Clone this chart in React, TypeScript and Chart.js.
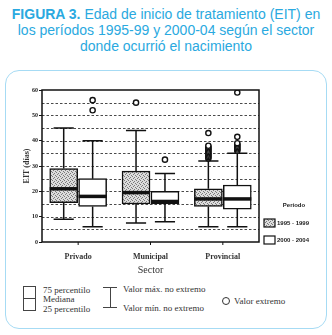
import React, { useEffect, useRef } from "react";
import { Chart, registerables } from "chart.js";

Chart.register(...registerables);

const categories = ["Privado", "Municipal", "Provincial"];
const periods = ["1995 - 1999", "2000 - 2004"];
const yTicks = [0, 10, 20, 30, 40, 50, 60];
const gridValues = [5, 10, 15, 20, 25, 30, 35, 40, 45, 50, 55];

// 1995-1999
const min9599 = [9, 7.5, 6];
const q1_9599 = [15.5, 15, 14];
const med9599 = [21, 19.5, 17];
const q3_9599 = [29, 28, 21];
const max9599 = [45, 44, 32];
const out9599 = [[], [55], [33, 33.5, 34, 34.5, 35, 35.5, 36, 36.5, 37, 37.5, 38, 43]];

// 2000-2004
const min0004 = [6, 8, 6];
const q1_0004 = [14, 15, 13];
const med0004 = [18, 16, 17];
const q3_0004 = [25, 20, 22.5];
const max0004 = [40, 27, 35];
const out0004 = [[52, 56], [32.5], [36, 36.5, 37, 37.5, 38, 38.5, 39, 41.5, 59]];

const SERIF = "'Liberation Serif', 'DejaVu Serif', serif";
const SANS = "'Liberation Sans', Arial, sans-serif";

const GROUP_OFFSET = 0.2;

function makePattern(): CanvasPattern | string {
  const c = document.createElement("canvas");
  c.width = 4;
  c.height = 4;
  const g = c.getContext("2d");
  if (!g) return "#ccc";
  g.fillStyle = "#dcdcdc";
  g.fillRect(0, 0, 4, 4);
  g.fillStyle = "#7a7a7a";
  g.fillRect(0, 0, 1, 1);
  g.fillRect(2, 1, 1, 1);
  g.fillRect(1, 2, 1, 1);
  g.fillRect(3, 3, 1, 1);
  const p = g.createPattern(c, "repeat");
  return p || "#ccc";
}

const stats = [
  { min: min9599, q1: q1_9599, med: med9599, q3: q3_9599, max: max9599 },
  { min: min0004, q1: q1_0004, med: med0004, q3: q3_0004, max: max0004 },
];

export default function App() {
  const ref = useRef<HTMLCanvasElement | null>(null);

  useEffect(() => {
    const canvas = ref.current;
    if (!canvas) return;
    const pattern = makePattern();

    const boxPlugin = {
      id: "boxplot",
      beforeDatasetsDraw(chart: any) {
        const { ctx, chartArea: a, scales } = chart;
        const y = scales.y;
        ctx.save();
        ctx.strokeStyle = "#4a4a4a";
        ctx.lineWidth = 1.2;
        ctx.setLineDash([2.5, 2]);
        gridValues.forEach((v) => {
          const py = Math.round(y.getPixelForValue(v)) + 0.5;
          ctx.beginPath();
          ctx.moveTo(a.left, py);
          ctx.lineTo(a.right, py);
          ctx.stroke();
        });
        ctx.setLineDash([]);
        ctx.strokeStyle = "#111";
        ctx.lineWidth = 1.5;
        [0, 1].forEach((di) => {
          const meta = chart.getDatasetMeta(di);
          const s = stats[di];
          meta.data.forEach((bar: any, i: number) => {
            const bx = bar.x;
            const cap = bar.width * 0.36;
            const yMax = y.getPixelForValue(s.max[i]);
            const yQ3 = y.getPixelForValue(s.q3[i]);
            const yMin = y.getPixelForValue(s.min[i]);
            const yQ1 = y.getPixelForValue(s.q1[i]);
            ctx.beginPath();
            ctx.moveTo(bx, yQ3);
            ctx.lineTo(bx, yMax);
            ctx.moveTo(bx - cap, yMax);
            ctx.lineTo(bx + cap, yMax);
            ctx.moveTo(bx, yQ1);
            ctx.lineTo(bx, yMin);
            ctx.moveTo(bx - cap, yMin);
            ctx.lineTo(bx + cap, yMin);
            ctx.stroke();
          });
        });
        ctx.restore();
      },
      afterDatasetsDraw(chart: any) {
        const { ctx, chartArea: a, scales } = chart;
        const y = scales.y;
        const x = scales.x;
        ctx.save();
        ctx.strokeStyle = "#111";
        ctx.lineWidth = 3.5;
        [0, 1].forEach((di) => {
          const meta = chart.getDatasetMeta(di);
          const s = stats[di];
          meta.data.forEach((bar: any, i: number) => {
            const py = y.getPixelForValue(s.med[i]);
            ctx.beginPath();
            ctx.moveTo(bar.x - bar.width / 2, py);
            ctx.lineTo(bar.x + bar.width / 2, py);
            ctx.stroke();
          });
        });
        ctx.lineWidth = 1.5;
        ctx.strokeRect(a.left, a.top, a.right - a.left, a.bottom - a.top);
        ctx.lineWidth = 1;
        categories.forEach((_, i) => {
          const px = x.getPixelForValue(i);
          ctx.beginPath();
          ctx.moveTo(px, a.bottom);
          ctx.lineTo(px, a.bottom + 3);
          ctx.stroke();
        });
        ctx.restore();
      },
      afterDraw(chart: any) {
        const { ctx, chartArea: a } = chart;
        ctx.save();
        const lx = a.right + 5;
        ctx.fillStyle = "#222";
        ctx.font = `bold 6px ${SANS}`;
        ctx.textAlign = "center";
        ctx.textBaseline = "middle";
        ctx.fillText("Período", lx + 30, 125);
        periods.forEach((p, i) => {
          const top = 139 + i * 17;
          ctx.fillStyle = i === 0 ? (pattern as any) : "#fff";
          ctx.fillRect(lx, top, 11, 8);
          ctx.strokeStyle = "#111";
          ctx.lineWidth = 1.2;
          ctx.strokeRect(lx, top, 11, 8);
          ctx.fillStyle = "#222";
          ctx.textAlign = "left";
          ctx.fillText(p, lx + 13, top + 4.5);
        });
        ctx.restore();
      },
    };

    const outlierPoints = (outs: number[][], offset: number) => {
      const pts: { x: number; y: number }[] = [];
      outs.forEach((arr, i) => arr.forEach((v) => pts.push({ x: i + offset, y: v })));
      return pts;
    };

    const barCommon = {
      borderColor: "#111",
      borderWidth: 1.5,
      borderSkipped: false,
      grouped: false,
      barThickness: 28,
      order: 2,
    };

    const chart = new Chart(canvas, {
      type: "bar",
      data: {
        datasets: [
          {
            ...barCommon,
            label: periods[0],
            data: categories.map((_, i) => ({ x: i - GROUP_OFFSET, y: [q1_9599[i], q3_9599[i]] })) as any,
            backgroundColor: pattern as any,
          },
          {
            ...barCommon,
            label: periods[1],
            data: categories.map((_, i) => ({ x: i + GROUP_OFFSET, y: [q1_0004[i], q3_0004[i]] })) as any,
            backgroundColor: "#fff",
          },
          {
            type: "scatter",
            label: "Valor extremo",
            data: [...outlierPoints(out9599, -GROUP_OFFSET), ...outlierPoints(out0004, GROUP_OFFSET)] as any,
            pointRadius: 2.6,
            pointBorderWidth: 1.4,
            borderColor: "#111",
            backgroundColor: "#fff",
            order: 1,
          } as any,
        ],
      },
      options: {
        animation: false,
        responsive: false,
        maintainAspectRatio: false,
        layout: { padding: { left: 16, right: 73, top: 10, bottom: 0 } },
        plugins: { legend: { display: false }, tooltip: { enabled: false } },
        scales: {
          x: {
            type: "linear",
            min: -0.5,
            max: 2.5,
            offset: false,
            afterBuildTicks: (s: any) => {
              s.ticks = categories.map((_, i) => ({ value: i }));
            },
            grid: { display: false },
            border: { display: false },
            ticks: {
              padding: 2,
              color: "#333",
              font: { family: SERIF, size: 8, weight: "bold" },
              callback: (v: any) => categories[Math.round(Number(v))] ?? "",
            },
            title: {
              display: true,
              text: "Sector",
              color: "#333",
              padding: { top: 2, bottom: 0 },
              font: { family: SERIF, size: 10 },
            },
            afterFit: (s: any) => {
              s.height = 34;
            },
          },
          y: {
            min: 0,
            max: 60,
            afterBuildTicks: (s: any) => {
              s.ticks = yTicks.map((v) => ({ value: v }));
            },
            grid: { display: true, drawOnChartArea: false, drawTicks: true, tickLength: 3, color: "#111" },
            border: { display: false },
            ticks: {
              padding: 1,
              color: "#222",
              font: { family: SERIF, size: 6, weight: "bold" },
            },
            title: {
              display: true,
              text: "EIT (días)",
              color: "#333",
              padding: { top: 6, bottom: 0 },
              font: { family: SERIF, size: 8, weight: "bold" },
            },
            afterFit: (s: any) => {
              s.width = 26;
            },
          },
        },
      } as any,
      plugins: [boxPlugin],
    });
    return () => chart.destroy();
  }, []);

  const txt: React.CSSProperties = {
    position: "absolute",
    fontFamily: SERIF,
    fontSize: 9,
    color: "#333",
    whiteSpace: "nowrap",
    lineHeight: "10px",
  };

  return (
    <div style={{ position: "absolute", left: 0, top: 0, width: 332, height: 335, background: "#fff" }}>
      <div
        style={{
          position: "absolute",
          left: 0,
          top: 6,
          width: 332,
          textAlign: "center",
          fontFamily: SANS,
          fontSize: 14,
          lineHeight: "16px",
          color: "#2aa9e0",
        }}
      >
        <b>FIGURA 3.</b> Edad de inicio de tratamiento (EIT) en
        <br />
        los períodos 1995-99 y 2000-04 según el sector
        <br />
        donde ocurrió el nacimiento
      </div>
      <div
        style={{
          position: "absolute",
          left: 5,
          top: 70,
          width: 322,
          height: 259,
          boxSizing: "border-box",
          border: "1.5px solid #a6dbf4",
          borderRadius: 14,
        }}
      />
      <canvas ref={ref} width={332} height={196} style={{ position: "absolute", left: 0, top: 80, width: 332, height: 196 }} />
      <div
        style={{
          position: "absolute",
          left: 23,
          top: 286,
          width: 13,
          height: 25,
          boxSizing: "border-box",
          border: "1px solid #444",
        }}
      />
      <div style={{ position: "absolute", left: 23, top: 298, width: 13, height: 1, background: "#444" }} />
      <div style={{ ...txt, left: 43, top: 285 }}>75 percentilo</div>
      <div style={{ ...txt, left: 43, top: 294 }}>Mediana</div>
      <div style={{ ...txt, left: 43, top: 304 }}>25 percentilo</div>
      <div style={{ position: "absolute", left: 103, top: 287, width: 14, height: 1, background: "#444" }} />
      <div style={{ position: "absolute", left: 110, top: 287, width: 1, height: 20, background: "#444" }} />
      <div style={{ position: "absolute", left: 103, top: 307, width: 14, height: 1, background: "#444" }} />
      <div style={{ ...txt, left: 123, top: 284 }}>Valor máx. no extremo</div>
      <div style={{ ...txt, left: 123, top: 303 }}>Valor mín. no extremo</div>
      <div
        style={{
          position: "absolute",
          left: 222,
          top: 297,
          width: 8,
          height: 8,
          boxSizing: "border-box",
          border: "1px solid #333",
          borderRadius: "50%",
        }}
      />
      <div style={{ ...txt, left: 234, top: 296 }}>Valor extremo</div>
    </div>
  );
}
